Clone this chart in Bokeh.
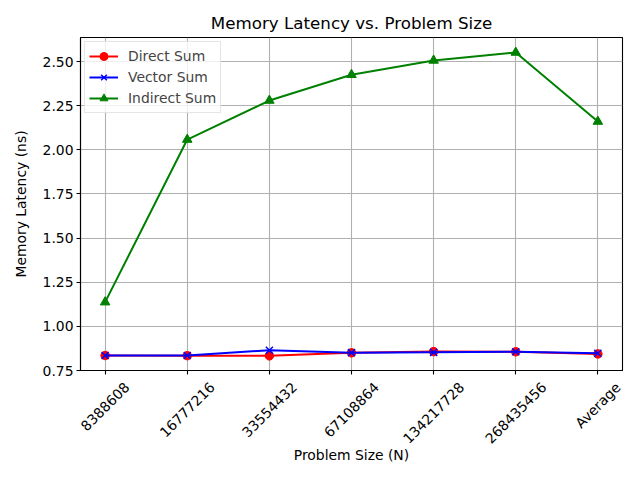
import math
from bokeh.plotting import figure
from bokeh.layouts import column, row
from bokeh.models import Range1d, FixedTicker, Legend, LegendItem, NumeralTickFormatter
from bokeh.core.properties import value
from bokeh.embed import file_html
from bokeh.resources import INLINE

categories = ["8388608", "16777216", "33554432", "67108864", "134217728", "268435456", "Average"]
direct_sum = [0.835, 0.834, 0.833, 0.850, 0.857, 0.856, 0.844]
vector_sum = [0.835, 0.835, 0.865, 0.851, 0.853, 0.856, 0.848]
indirect_sum = [1.137, 2.058, 2.279, 2.425, 2.506, 2.551, 2.160]
y_ticks = [0.75, 1.00, 1.25, 1.50, 1.75, 2.00, 2.25, 2.50]

xs = list(range(len(categories)))
FONT = "DejaVu Sans"
FS = 13.9
Y0, Y1 = 0.75, 2.636
X0, X1 = -0.3, len(categories) - 1 + 0.3
W = 624
BL, BR, BT = 80, 2, 37
FRAME_H = 333
AXB = 8           # space below frame in main figure (ticks only)
H1 = BT + FRAME_H + AXB
H2 = 464 - H1

p = figure(width=W, height=H1, output_backend="svg", toolbar_location=None,
           x_range=Range1d(X0, X1), y_range=Range1d(Y0, Y1),
           min_border_left=BL, min_border_right=BR, min_border_top=BT, min_border_bottom=AXB)

p.title.text = "Memory Latency vs. Problem Size"
p.title.text_font = FONT
p.title.text_font_size = "16.7px"
p.title.text_font_style = "normal"
p.title.text_color = "black"
p.title.align = "center"

p.outline_line_color = "black"
p.outline_line_width = 1.1

p.xaxis.ticker = FixedTicker(ticks=xs)
p.yaxis.ticker = FixedTicker(ticks=y_ticks)
p.yaxis.formatter = NumeralTickFormatter(format="0.00")

for ax in (p.xaxis, p.yaxis):
    ax.axis_label_text_font = FONT
    ax.axis_label_text_font_size = f"{FS}px"
    ax.axis_label_text_font_style = "normal"
    ax.axis_label_text_color = "black"
    ax.major_label_text_font = FONT
    ax.major_label_text_font_size = f"{FS}px"
    ax.major_label_text_color = "black"
    ax.axis_line_color = "black"
    ax.axis_line_width = 1.1
    ax.major_tick_line_color = "black"
    ax.major_tick_line_width = 1.1
    ax.major_tick_out = 4
    ax.major_tick_in = 0
    ax.minor_tick_line_color = None
    ax.major_label_standoff = 3

p.xaxis.major_label_text_font_size = "0px"
p.xaxis.major_label_standoff = 0
p.xaxis.major_label_overrides = {i: "" for i in xs}

p.yaxis.axis_label_standoff = 11
p.yaxis.axis_label = "Memory Latency (ns)"

p.grid.grid_line_color = "#b0b0b0"
p.grid.grid_line_width = 1.1
p.xgrid.ticker = FixedTicker(ticks=xs)
p.ygrid.ticker = FixedTicker(ticks=y_ticks)

l1 = p.line(xs, direct_sum, line_color="red", line_width=2)
m1 = p.scatter(xs, direct_sum, marker="circle", size=8.5, color="red")
l2 = p.line(xs, vector_sum, line_color="blue", line_width=2)
m2 = p.scatter(xs, vector_sum, marker="x", size=10, line_color="blue", line_width=1.5)
l3 = p.line(xs, indirect_sum, line_color="green", line_width=2)
m3 = p.scatter(xs, indirect_sum, marker="triangle", size=9.5, color="green")

legend = Legend(items=[
    LegendItem(label="Direct Sum", renderers=[l1, m1]),
    LegendItem(label="Vector Sum", renderers=[l2, m2]),
    LegendItem(label="Indirect Sum", renderers=[l3, m3]),
], location="top_left")
legend.label_text_font = FONT
legend.label_text_font_size = f"{FS}px"
legend.border_line_color = "#cccccc"
legend.background_fill_alpha = 0.8
legend.glyph_width = 29
legend.glyph_height = 20
legend.label_height = 20
legend.spacing = 1
legend.padding = 4
legend.margin = 4
legend.label_standoff = 10
p.add_layout(legend)

# Lower strip: rotated x tick labels centred on ticks (matplotlib style) + x axis label
ppu_x = (W - BL - BR) / (X1 - X0)
q = figure(width=W, height=H2, output_backend="svg", toolbar_location=None,
           x_axis_location=None, y_axis_location=None,
           x_range=Range1d(X0 - BL / ppu_x, X1 + BR / ppu_x), y_range=Range1d(0, H2),
           min_border_left=0, min_border_right=0, min_border_top=0, min_border_bottom=0)
q.grid.visible = False
q.outline_line_color = None

frame_bottom = BT + FRAME_H
char_w = {"A": 0.684, "v": 0.592, "e": 0.615, "r": 0.411, "a": 0.613, "g": 0.635}
label_y = []
for c in categories:
    w = sum(char_w.get(ch, 0.636) for ch in c) * FS
    h = 1.164 * FS
    off = 8.5 + (w + h) * math.sqrt(0.5) / 2
    label_y.append(H2 - (frame_bottom + off - H1))
q.text(x=xs, y=label_y, text=categories, angle=math.pi / 4,
       text_align="center", text_baseline="middle",
       text_font=value(FONT), text_font_size=f"{FS}px", text_color="black")
q.text(x=[(X0 + X1) / 2], y=[H2 - (454 - H1)], text=["Problem Size (N)"],
       text_align="center", text_baseline="middle",
       text_font=value(FONT), text_font_size=f"{FS}px", text_color="black")

layout = column(p, row(q), spacing=0)
open("out.html", "w").write(file_html(layout, INLINE))
